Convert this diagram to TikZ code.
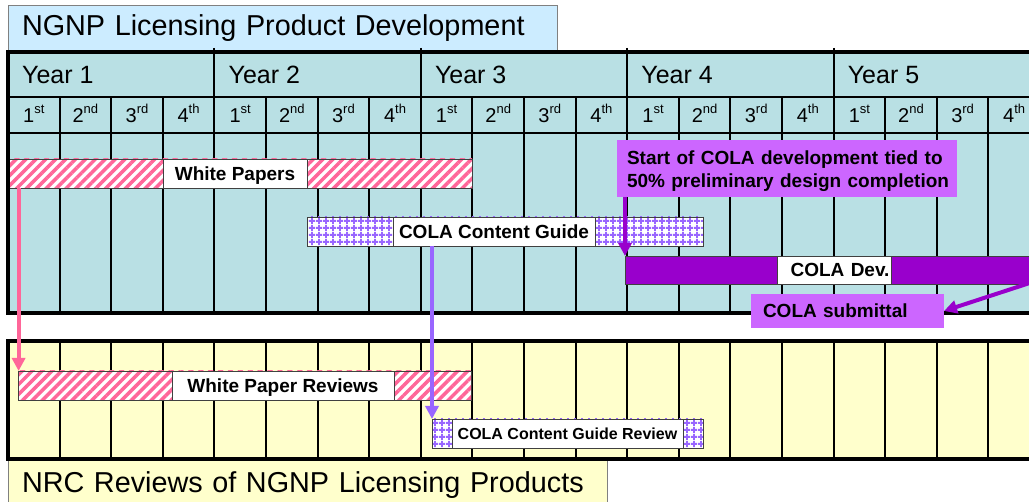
\documentclass[tikz,border=0pt]{standalone}
\usepackage{fontspec}
\setmainfont{Liberation Sans}
\usetikzlibrary{patterns.meta,arrows.meta}
\definecolor{titleblue}{HTML}{CCECFF}
\definecolor{tealbg}{HTML}{B9E0E4}
\definecolor{ylw}{HTML}{FFFFCC}
\definecolor{pinkc}{HTML}{FF6699}
\definecolor{dpurp}{HTML}{9900CC}
\definecolor{callc}{HTML}{CC66FF}
\definecolor{lpurp}{HTML}{9966FF}
\definecolor{barline}{HTML}{404040}
\newcommand\fTitle{\fontsize{28.8}{34}\selectfont}
\newcommand\fYear{\fontsize{25}{30}\selectfont}
\newcommand\fQuarter{\fontsize{20}{24}\selectfont}
\newcommand\fBar{\fontsize{19}{23}\selectfont\bfseries}
\newcommand\fBarSmall{\fontsize{16}{20}\selectfont\bfseries}
\newcommand\qsup[1]{\raisebox{0.45em}{\fontsize{13}{14}\selectfont #1}}
\begin{document}
\begin{tikzpicture}[x=1pt,y=-1pt,
  thickrule/.style={line width=4pt},
  gridrule/.style={line width=2pt},
  sized/.style 2 args={minimum width=#1, minimum height=#2},
  headbox/.style={draw=gray, line width=0.8pt, anchor=north west, inner xsep=14pt, inner ysep=0pt, outer sep=0pt, font=\fTitle, align=left},
  ylabel/.style={anchor=base west, font=\fYear, inner sep=0pt},
  qlabel/.style={anchor=base, font=\fQuarter, inner sep=0pt},
  bar/.style={draw=barline, line width=0.8pt, inner sep=0pt, outer sep=0pt, anchor=north west},
  barlabel/.style={bar, fill=white, font=\fBar, text height=14pt, text depth=-8pt},
  smalllabel/.style={bar, fill=white, font=\fBarSmall, text height=12pt, text depth=-4pt},
  stripes/.style={bar, preaction={fill=white}, pattern={Lines[angle=45,distance=7pt,line width=3.5pt]}, pattern color=pinkc},
  checks/.style={bar, preaction={fill=white}, pattern={Hatch[angle=0,distance=6.5pt,line width=2pt]}, pattern color=lpurp},
  callout/.style={fill=callc, anchor=north west, inner xsep=10pt, inner ysep=0pt, outer sep=0pt, align=left, font=\fBar},
  arr/.style={line width=4pt, -{Triangle[length=13pt,width=13pt]}},
]
\useasboundingbox (0,0) rectangle (1029,502);
% backgrounds
\fill[tealbg] (8,52) rectangle (1050,313);
\fill[ylw] (8,341) rectangle (1050,459);
% heading boxes
\node[headbox, fill=titleblue, sized={549pt}{47pt}, text width=521pt] (title) at (8,5) {NGNP Licensing Product Development};
\node[headbox, fill=ylw, sized={599pt}{50pt}, text width=571pt] (nrc) at (8,460) {NRC Reviews of NGNP Licensing Products};
% grid lines
\foreach \k in {1,...,20} \draw[gridrule] ({8+51.6*\k},97) -- ({8+51.6*\k},313);
\foreach \k in {4,8,12,16,20} \draw[gridrule] ({8+51.6*\k},48) -- ({8+51.6*\k},97);
\draw[gridrule] (8,97) -- (1050,97);
\draw[gridrule] (8,133) -- (1050,133);
\foreach \k in {1,...,20} \draw[gridrule] ({8+51.6*\k},341) -- ({8+51.6*\k},459);
% year and quarter labels
\foreach \yr [count=\n] in {0,...,4}
  \node[ylabel] (year\n) at ({22+206.4*\yr},84) {Year \n};
\foreach \yr in {0,...,4}{
  \foreach \q/\s in {1/st,2/nd,3/rd,4/th}{
    \node[qlabel] (q\yr\q) at ({8+51.6*(4*\yr+\q-1)+25.8},123) {\q\qsup{\s}};
  }
}
% development bars
\node[stripes, sized={464pt}{29pt}] (wp) at (8,159) {};
\node[barlabel, sized={144pt}{29pt}] (wpl) at (163,159) {White Papers};
\node[checks, sized={396pt}{29pt}] (ccg) at (307,217) {};
\node[barlabel, sized={202pt}{29pt}] (ccgl) at (393,217) {COLA Content Guide};
\node[bar, fill=dpurp, sized={430pt}{28pt}] (cdev) at (625,256) {};
\node[barlabel, sized={114pt}{28pt}, text width=111pt, align=right, text depth=-7pt] (cdevl) at (777,256) {COLA Dev.};
% review bars
\node[stripes, sized={453pt}{29pt}] (wpr) at (18.6,371) {};
\node[barlabel, sized={222pt}{29pt}, text depth=-9pt] (wprl) at (172,371) {White Paper Reviews};
\node[checks, sized={271pt}{29pt}] (ccgr) at (432,419) {};
\node[smalllabel, sized={231pt}{29pt}] (ccgrl) at (452,419) {COLA Content Guide Review};
% frames
\draw[thickrule] (1050,52) -- (8,52) -- (8,313) -- (1050,313);
\draw[thickrule] (1050,341) -- (8,341) -- (8,459) -- (1050,459);
% callouts
\node[callout, sized={340pt}{57pt}, text width=320pt, text height=20pt, text depth=27pt] (start) at (617,140) {\mbox{Start of COLA development tied to}\\\mbox{50\% preliminary design completion}};
\node[callout, inner xsep=12pt, sized={193pt}{34pt}, text width=169pt, text height=14pt, text depth=-2pt] (sub) at (751,294) {COLA submittal};
% connectors
\coordinate (subsrc) at (1045,278);
\draw[arr, pinkc] (wp.south west -| wpr.north west) -- (wpr.north west);
\draw[arr, lpurp] (ccg.south -| ccgr.north west) -- (ccgr.north west);
\draw[arr, dpurp] (start.south -| cdev.north west) -- (cdev.north west);
\draw[arr, dpurp] (subsrc) -- (sub.east);
\end{tikzpicture}
\end{document}
